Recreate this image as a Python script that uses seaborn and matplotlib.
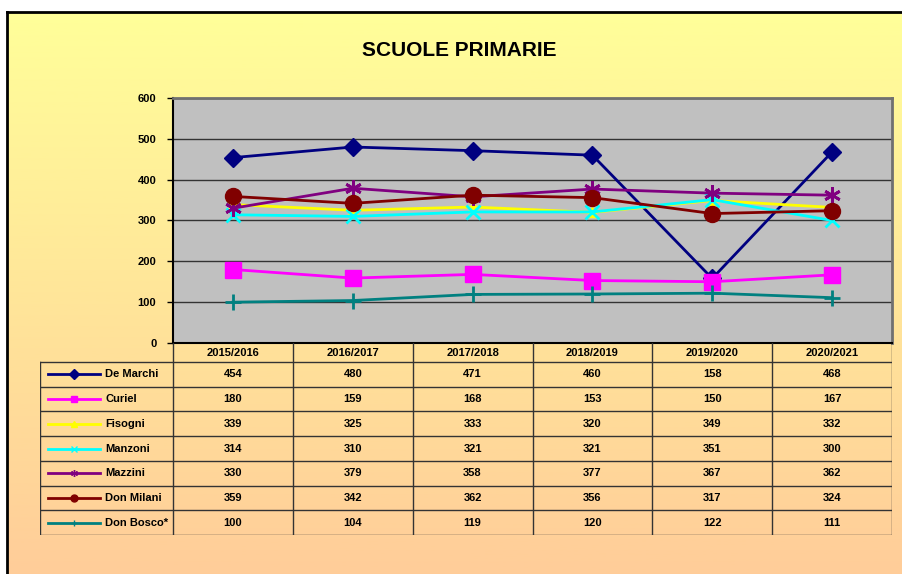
import numpy as np
import pandas as pd
import seaborn as sns
import matplotlib.pyplot as plt
from matplotlib.colors import LinearSegmentedColormap

# data
anni = ["2015/2016", "2016/2017", "2017/2018", "2018/2019", "2019/2020", "2020/2021"]
scuole = ["De Marchi", "Curiel", "Fisogni", "Manzoni", "Mazzini", "Don Milani", "Don Bosco*"]
de_marchi = [454, 480, 471, 460, 158, 468]
curiel = [180, 159, 168, 153, 150, 167]
fisogni = [339, 325, 333, 320, 349, 332]
manzoni = [314, 310, 321, 321, 351, 300]
mazzini = [330, 379, 358, 377, 367, 362]
don_milani = [359, 342, 362, 356, 317, 324]
don_bosco = [100, 104, 119, 120, 122, 111]
valori = [de_marchi, curiel, fisogni, manzoni, mazzini, don_milani, don_bosco]

colori = ["#000080", "#FF00FF", "#FFFF00", "#00FFFF", "#800080", "#800000", "#008080"]
marker = ["D", "s", "^", "x", (6, 2, 0), "o", "+"]
msize = [9, 11, 7, 10, 12, 11.5, 11]
medge = [1, 1, 1, 2, 2, 1, 2]

df = pd.DataFrame({
    "anno": np.tile(anni, len(scuole)),
    "x": np.tile(np.arange(len(anni)), len(scuole)),
    "scuola": np.repeat(scuole, len(anni)),
    "alunni": np.concatenate(valori),
})

W, H = 902, 574
fig = plt.figure(figsize=(W / 100, H / 100), dpi=100)
fig.patch.set_facecolor("white")
plt.rcParams["font.family"] = ["Liberation Sans", "DejaVu Sans"]

# gradient background with frame
bg = fig.add_axes([7 / W, -0.02, 1.02 - 7 / W, 1.02 - 12 / H])
cmap = LinearSegmentedColormap.from_list("bg", ["#FFFF99", "#FFCC99"])
bg.imshow(np.linspace(0, 1, 256).reshape(-1, 1), aspect="auto", cmap=cmap,
          extent=(0, 1, 1, 0))
bg.set_xticks([]); bg.set_yticks([])
for s in ["right", "bottom"]:
    bg.spines[s].set_visible(False)
for s in ["left", "top"]:
    bg.spines[s].set_linewidth(2)
    bg.spines[s].set_color("black")
bg.set_zorder(-10)

fig.text(459 / W, 1 - 50 / H, "SCUOLE PRIMARIE", ha="center", va="center",
         fontsize=15, fontweight="bold")

# plot area
x0, x1, ytop, ybot = 173, 892, 98, 343
ax = fig.add_axes([x0 / W, 1 - ybot / H, (x1 - x0) / W, (ybot - ytop) / H])
ax.set_facecolor("#C0C0C0")
for i, nome in enumerate(scuole):
    sns.lineplot(data=df[df["scuola"] == nome], x="x", y="alunni", ax=ax,
                 color=colori[i], marker=marker[i], markersize=msize[i],
                 markeredgecolor=colori[i], markeredgewidth=medge[i],
                 linewidth=2, legend=False, zorder=3)
ax.set_xlim(-0.5, len(anni) - 0.5)
ax.set_ylim(0, 600)
ax.set_yticks(range(0, 601, 100))
ax.set_yticklabels([str(v) for v in range(0, 601, 100)], fontsize=8, fontweight="bold")
ax.set_xticks([])
ax.set_xlabel(""); ax.set_ylabel("")
ax.yaxis.grid(True, color="#333333", linewidth=1)
ax.set_axisbelow(True)
ax.tick_params(axis="y", length=4, width=1, pad=8)
ax.spines["left"].set_color("black"); ax.spines["left"].set_linewidth(1.5)
ax.spines["bottom"].set_color("black"); ax.spines["bottom"].set_linewidth(1.5)
ax.spines["top"].set_color("#707070"); ax.spines["top"].set_linewidth(2)
ax.spines["right"].set_color("#707070"); ax.spines["right"].set_linewidth(2)

# data table
tx0, tbot = 40, 535
hrow = 362
tax = fig.add_axes([tx0 / W, 1 - tbot / H, (x1 - tx0) / W, (tbot - ybot) / H])
tax.set_xlim(tx0, x1)
tax.set_ylim(tbot, ybot)
tax.axis("off")
colw = (x1 - x0) / len(anni)
rowh = (tbot - hrow) / len(scuole)
lc = "#333333"
for k in range(len(anni) + 1):
    tax.plot([x0 + k * colw] * 2, [ybot, tbot], color=lc, lw=1)
tax.plot([tx0, tx0], [hrow, tbot], color=lc, lw=1)
for r in range(len(scuole) + 1):
    tax.plot([tx0, x1], [hrow + r * rowh] * 2, color=lc, lw=1)
for k, a in enumerate(anni):
    tax.text(x0 + (k + 0.5) * colw, (ybot + hrow) / 2, a, ha="center", va="center",
             fontsize=8, fontweight="bold")
for r, nome in enumerate(scuole):
    yc = hrow + (r + 0.5) * rowh
    tax.plot([48, 74, 100], [yc, yc, yc], color=colori[r], lw=2,
             marker=marker[r], markevery=[1], markersize=5, markeredgecolor=colori[r])
    tax.text(105, yc, nome, ha="left", va="center", fontsize=8, fontweight="bold")
    for k, v in enumerate(valori[r]):
        tax.text(x0 + (k + 0.5) * colw, yc, str(v), ha="center", va="center",
                 fontsize=8, fontweight="bold")

fig.savefig("out.png", dpi=100)
